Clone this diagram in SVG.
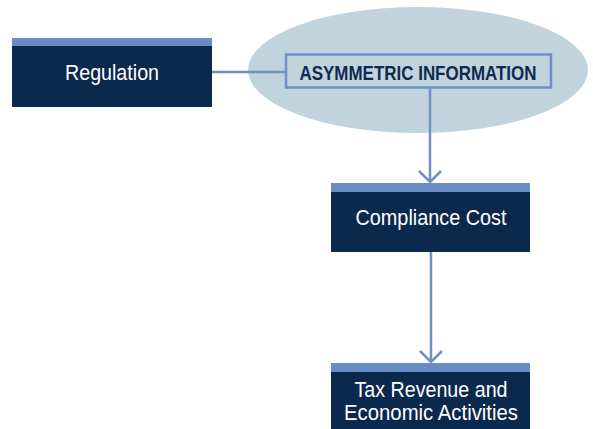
<svg xmlns="http://www.w3.org/2000/svg" width="593" height="429" viewBox="0 0 593 429">
<style>
.box{fill:#0b284d}
.stripe{fill:#6a8cc4}
.lbl{font-family:"Liberation Sans",Arial,sans-serif;font-size:21.5px;fill:#ffffff;text-anchor:middle}
.conn{stroke:#6f8fc6;stroke-width:2.5;fill:none}
.head{stroke:#6f8fc6;stroke-width:2.5;fill:none}
</style>
<rect width="593" height="429" fill="#ffffff"/>
<g id="asymmetric-information">
<ellipse cx="418" cy="70" rx="170" ry="63" fill="#c1d3dd"/>
<rect x="286" y="54.5" width="265" height="33" fill="none" stroke="#6f8fc6" stroke-width="2.5"/>
<text x="418" y="79.5" font-family="'Liberation Sans',Arial,sans-serif" font-size="20" font-weight="bold" fill="#0f2a4e" text-anchor="middle" textLength="237" lengthAdjust="spacingAndGlyphs">ASYMMETRIC INFORMATION</text>
</g>
<g id="connectors">
<line class="conn" x1="212" y1="72" x2="286" y2="72"/>
<line class="conn" x1="430" y1="88" x2="430" y2="182"/>
<polyline class="head" points="419,171 430,182 441,171"/>
<line class="conn" x1="431" y1="252" x2="431" y2="362"/>
<polyline class="head" points="420,351 431,362 442,351"/>
</g>
<g id="regulation">
<rect class="box" x="12" y="38" width="200" height="69"/>
<rect class="stripe" x="12" y="38" width="200" height="8"/>
<text class="lbl" x="112" y="80" textLength="94" lengthAdjust="spacingAndGlyphs">Regulation</text>
</g>
<g id="compliance-cost">
<rect class="box" x="331" y="183" width="199" height="69"/>
<rect class="stripe" x="331" y="183" width="199" height="9"/>
<text class="lbl" x="431" y="225" textLength="151" lengthAdjust="spacingAndGlyphs">Compliance Cost</text>
</g>
<g id="tax-revenue">
<rect class="box" x="331" y="363" width="199" height="66"/>
<rect class="stripe" x="331" y="363" width="199" height="9"/>
<text class="lbl" x="431" y="397" textLength="153" lengthAdjust="spacingAndGlyphs">Tax Revenue and</text>
<text class="lbl" x="431" y="420" textLength="174" lengthAdjust="spacingAndGlyphs">Economic Activities</text>
</g>
</svg>
